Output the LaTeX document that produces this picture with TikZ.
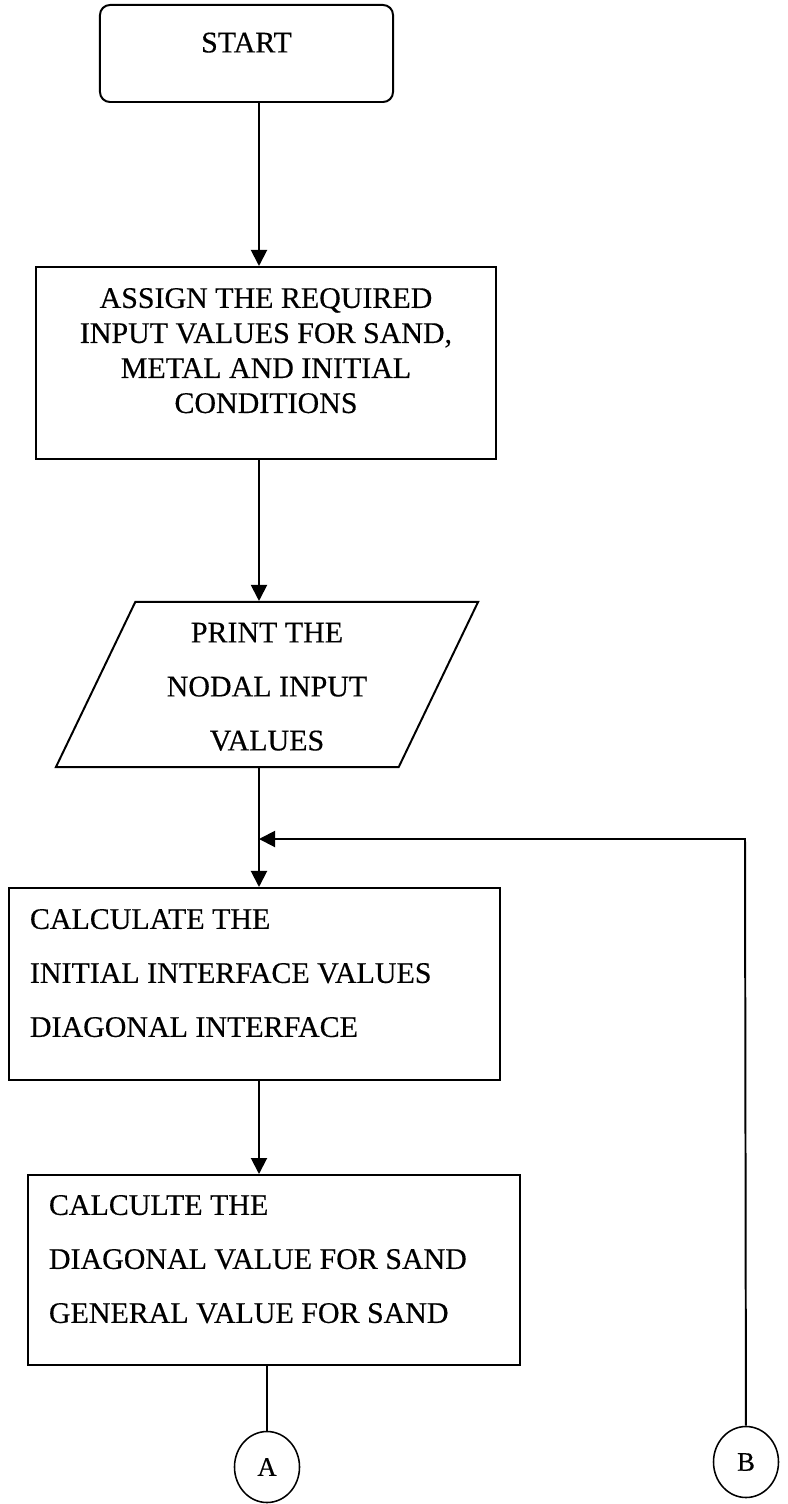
\documentclass[tikz,border=0pt]{standalone}
\usepackage{fontspec}
\setmainfont{Liberation Serif}[FakeBold=0.4]
\usetikzlibrary{shapes.geometric,arrows.meta}

\begin{document}
\begin{tikzpicture}[x=0.025cm, y=-0.025cm, line width=1.4pt,
  every node/.style={draw, inner sep=0pt, font=\fontsize{21.3}{38.4}\selectfont},
  arr/.style={-{Triangle[width=0.4cm, length=0.4cm]}}]
  \useasboundingbox (0,0) rectangle (788,1504);
  \coordinate (spine) at (259,0);
  \coordinate (back) at (745,839);
  \node [rounded corners=0.25cm, minimum width=7.325cm, minimum height=2.425cm, text depth=0.55cm] (start) at (246.5,53.5) {START};
  \node [minimum width=11.5cm, minimum height=4.8cm, text depth=0.74cm, font=\fontsize{21.3}{24.9}\selectfont] (assign) at (266,363)
    {\begin{tabular}[b]{@{}c@{}}ASSIGN THE REQUIRED\\INPUT VALUES FOR SAND,\\METAL AND INITIAL\\CONDITIONS\end{tabular}};
  \node [trapezium, trapezium left angle=63.6, trapezium right angle=116.4, trapezium stretches body,
    minimum width=10.55cm, minimum height=4.125cm, text depth=0.35cm] (print) at (267,684.5)
    {\begin{tabular}[b]{@{}c@{}}PRINT THE\\NODAL INPUT\\VALUES\end{tabular}};
  \node [minimum width=12.275cm, minimum height=4.8cm, text depth=1cm] (calc) at (254.5,984)
    {\begin{tabular}[b]{@{}p{11.225cm}@{}}CALCULATE THE\\INITIAL INTERFACE VALUES\\DIAGONAL INTERFACE\end{tabular}};
  \node [minimum width=12.3cm, minimum height=4.75cm, text depth=1cm] (sand) at (274,1270)
    {\begin{tabular}[b]{@{}p{11.25cm}@{}}CALCULTE THE\\DIAGONAL VALUE FOR SAND\\GENERAL VALUE FOR SAND\end{tabular}};
  \node [ellipse, line width=1.1pt, minimum width=1.625cm, minimum height=1.775cm, font=\fontsize{19}{19}\selectfont] (A) at (267,1467) {A};
  \node [ellipse, line width=1.1pt, minimum width=1.625cm, minimum height=1.775cm, font=\fontsize{19}{19}\selectfont] (B) at (746,1462) {B};
  \draw [arr] (start.south -| spine) -- (assign.north -| spine);
  \draw [arr] (assign.south -| spine) -- (print.north -| spine);
  \draw [arr] (print.south -| spine) -- (calc.north -| spine);
  \draw [arr] (calc.south -| spine) -- (sand.north -| spine);
  \draw (sand.south -| A) -- (A);
  \draw [arr] (B) -- (back) -- (back -| spine);
\end{tikzpicture}
\end{document}
